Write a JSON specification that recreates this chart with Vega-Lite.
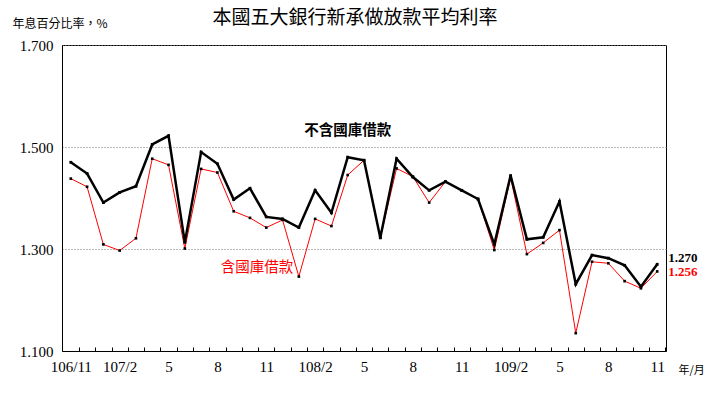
{
  "$schema": "https://vega.github.io/schema/vega-lite/v6.json",
  "width": 604,
  "height": 306,
  "autosize": "none",
  "padding": {"left": 62, "top": 45, "right": 54, "bottom": 43},
  "background": "white",
  "title": {"text": "本國五大銀行新承做放款平均利率", "font": "Noto Sans CJK TC", "fontSize": 19, "fontWeight": "normal", "color": "#000", "anchor": "middle", "dx": -9, "offset": -11},
  "config": {"view": {"stroke": "#000", "strokeWidth": 1}},
  "data": {"values": [
    {"i": 0, "excl": 1.470, "incl": 1.438},
    {"i": 1, "excl": 1.448, "incl": 1.422},
    {"i": 2, "excl": 1.391, "incl": 1.309},
    {"i": 3, "excl": 1.411, "incl": 1.297},
    {"i": 4, "excl": 1.423, "incl": 1.321},
    {"i": 5, "excl": 1.505, "incl": 1.477},
    {"i": 6, "excl": 1.522, "incl": 1.465},
    {"i": 7, "excl": 1.313, "incl": 1.301},
    {"i": 8, "excl": 1.490, "incl": 1.457},
    {"i": 9, "excl": 1.467, "incl": 1.450},
    {"i": 10, "excl": 1.397, "incl": 1.374},
    {"i": 11, "excl": 1.419, "incl": 1.361},
    {"i": 12, "excl": 1.363, "incl": 1.342},
    {"i": 13, "excl": 1.359, "incl": 1.357},
    {"i": 14, "excl": 1.342, "incl": 1.246},
    {"i": 15, "excl": 1.415, "incl": 1.359},
    {"i": 16, "excl": 1.371, "incl": 1.345},
    {"i": 17, "excl": 1.480, "incl": 1.445},
    {"i": 18, "excl": 1.474, "incl": 1.474},
    {"i": 19, "excl": 1.322, "incl": 1.322},
    {"i": 20, "excl": 1.477, "incl": 1.458},
    {"i": 21, "excl": 1.441, "incl": 1.442},
    {"i": 22, "excl": 1.415, "incl": 1.391},
    {"i": 23, "excl": 1.432, "incl": 1.432},
    {"i": 24, "excl": 1.415, "incl": 1.415},
    {"i": 25, "excl": 1.398, "incl": 1.398},
    {"i": 26, "excl": 1.309, "incl": 1.298},
    {"i": 27, "excl": 1.444, "incl": 1.440},
    {"i": 28, "excl": 1.319, "incl": 1.290},
    {"i": 29, "excl": 1.323, "incl": 1.312},
    {"i": 30, "excl": 1.393, "incl": 1.337},
    {"i": 31, "excl": 1.231, "incl": 1.135},
    {"i": 32, "excl": 1.288, "incl": 1.275},
    {"i": 33, "excl": 1.282, "incl": 1.272},
    {"i": 34, "excl": 1.268, "incl": 1.237},
    {"i": 35, "excl": 1.226, "incl": 1.223},
    {"i": 36, "excl": 1.270, "incl": 1.256}
  ]},
  "encoding": {
    "x": {"field": "i", "type": "quantitative",
      "scale": {"domain": [-0.54, 36.54], "nice": false, "zero": false},
      "axis": {
        "values": [0,1,2,3,4,5,6,7,8,9,10,11,12,13,14,15,16,17,18,19,20,21,22,23,24,25,26,27,28,29,30,31,32,33,34,35,36],
        "tickOffset": 8.14, "labelOffset": -8.14, "tickSize": -4, "tickColor": "#000", "tickWidth": 1,
        "domainColor": "#000", "grid": false,
        "labelExpr": "datum.value % 3 == 0 ? ['106/11','107/2','5','8','11','108/2','5','8','11','109/2','5','8','11'][datum.value/3] : ''",
        "labelFont": "Liberation Serif", "labelFontSize": 15, "labelColor": "#000", "labelPadding": 12,
        "labelFlush": false, "labelOverlap": false,
        "title": "年/月", "titleFont": "Noto Sans CJK TC", "titleFontSize": 11, "titleFontWeight": "normal", "titleColor": "#000",
        "titleX": 616, "titleY": 19, "titleAlign": "left", "titleBaseline": "middle"
      }
    }
  },
  "layer": [
    {
      "mark": {"type": "line", "color": "#ff0000", "strokeWidth": 1},
      "encoding": {
        "y": {"field": "incl", "type": "quantitative",
          "scale": {"domain": [1.1, 1.7], "nice": false, "zero": false},
          "axis": {
            "values": [1.1, 1.3, 1.5, 1.7], "format": ".3f", "ticks": false,
            "domainColor": "#000", "grid": true, "gridColor": "#777", "gridDash": [1, 2], "gridWidth": 1,
            "labelFont": "Liberation Serif", "labelFontSize": 15, "labelColor": "#000", "labelPadding": 9, "labelFlush": false,
            "title": "年息百分比率，%", "titleAngle": 0, "titleAlign": "left", "titleBaseline": "middle",
            "titleX": -50, "titleY": -22, "titleFont": "Noto Sans CJK TC", "titleFontSize": 12, "titleFontWeight": "normal", "titleColor": "#000"
          }
        }
      }
    },
    {
      "mark": {"type": "line", "color": "#000", "strokeWidth": 2.5},
      "encoding": {"y": {"field": "excl", "type": "quantitative"}}
    },
    {
      "mark": {"type": "point", "shape": "square", "filled": true, "color": "#000", "size": 7, "opacity": 1},
      "encoding": {"y": {"field": "incl", "type": "quantitative"}}
    },
    {
      "mark": {"type": "point", "shape": "square", "filled": true, "color": "#000", "size": 8, "opacity": 1},
      "encoding": {"y": {"field": "excl", "type": "quantitative"}}
    },
    {
      "transform": [{"filter": "datum.i == 36"}],
      "mark": {"type": "text", "align": "left", "baseline": "middle", "dx": 11, "dy": -6, "font": "Liberation Serif", "fontSize": 13, "fontWeight": "bold", "color": "#000"},
      "encoding": {"y": {"field": "excl", "type": "quantitative"}, "text": {"field": "excl", "type": "quantitative", "format": ".3f"}}
    },
    {
      "transform": [{"filter": "datum.i == 36"}],
      "mark": {"type": "text", "align": "left", "baseline": "middle", "dx": 11, "dy": 1, "font": "Liberation Serif", "fontSize": 13, "fontWeight": "bold", "color": "#ff0000"},
      "encoding": {"y": {"field": "incl", "type": "quantitative"}, "text": {"field": "incl", "type": "quantitative", "format": ".3f"}}
    },
    {
      "transform": [{"filter": "datum.i == 17"}],
      "mark": {"type": "text", "align": "center", "baseline": "middle", "font": "Noto Sans CJK TC", "fontSize": 14.5, "fontWeight": "bold", "color": "#000"},
      "encoding": {"y": {"datum": 1.532, "type": "quantitative"}, "text": {"value": "不含國庫借款"}}
    },
    {
      "transform": [{"filter": "datum.i == 11"}],
      "mark": {"type": "text", "align": "center", "baseline": "middle", "dx": 7, "font": "Noto Sans CJK TC", "fontSize": 14.5, "fontWeight": "normal", "color": "#ff0000"},
      "encoding": {"y": {"datum": 1.263, "type": "quantitative"}, "text": {"value": "含國庫借款"}}
    }
  ]
}
